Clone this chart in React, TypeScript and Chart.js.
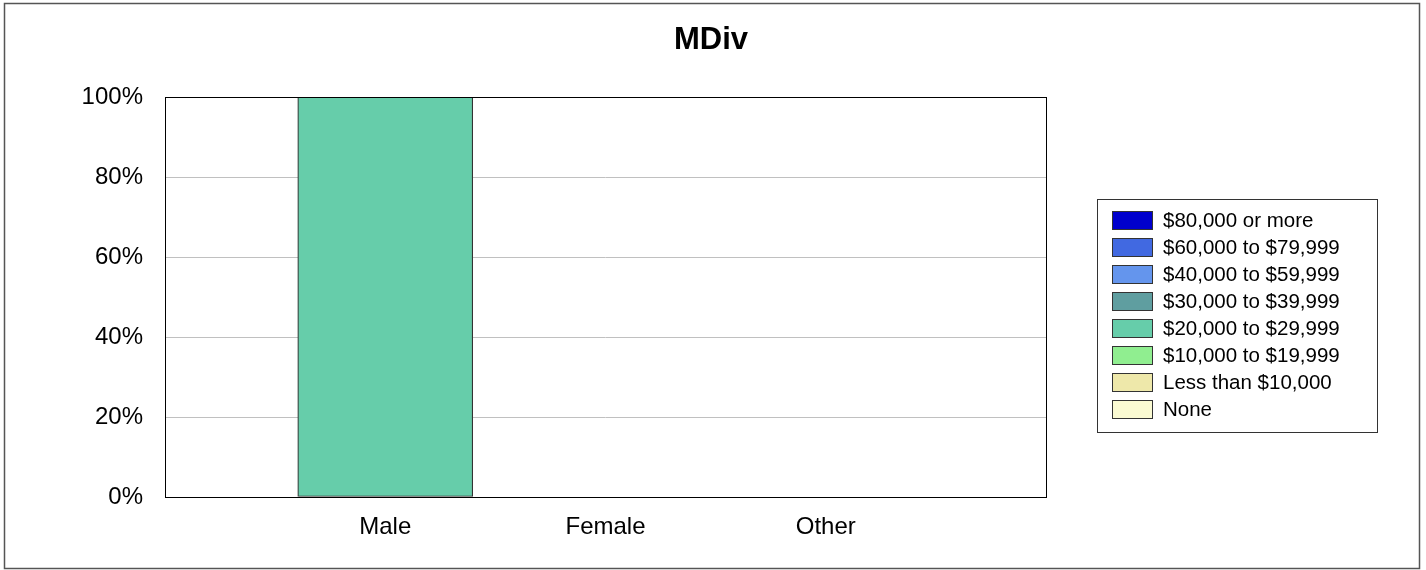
import React, { useEffect, useRef } from "react";
import { Chart, registerables } from "chart.js";

Chart.register(...registerables);

const title = "MDiv";
const categories = ["Male", "Female", "Other"];
const seriesNames = [
  "$80,000 or more",
  "$60,000 to $79,999",
  "$40,000 to $59,999",
  "$30,000 to $39,999",
  "$20,000 to $29,999",
  "$10,000 to $19,999",
  "Less than $10,000",
  "None",
];
const seriesColors = [
  "#0000CD",
  "#4169E1",
  "#6495ED",
  "#5F9EA0",
  "#66CDAA",
  "#90EE90",
  "#EEE8AA",
  "#FAFAD2",
];
// percent per category (Male, Female, Other)
const v80plus = [0, 0, 0];
const v60to80 = [0, 0, 0];
const v40to60 = [0, 0, 0];
const v30to40 = [0, 0, 0];
const v20to30 = [100, 0, 0];
const v10to20 = [0, 0, 0];
const vLess10 = [0, 0, 0];
const vNone = [0, 0, 0];
const seriesValues = [v80plus, v60to80, v40to60, v30to40, v20to30, v10to20, vLess10, vNone];
const yTicks = [0, 20, 40, 60, 80, 100];

const FONT = "'Liberation Sans', Arial, sans-serif";

export default function App() {
  const ref = useRef<HTMLCanvasElement | null>(null);

  useEffect(() => {
    document.body.style.margin = "0";
    const canvas = ref.current;
    if (!canvas) return;

    const decor = {
      id: "decor",
      beforeDraw(chart: any) {
        const ctx = chart.ctx;
        ctx.save();
        ctx.fillStyle = "#ffffff";
        ctx.fillRect(0, 0, chart.width, chart.height);
        ctx.restore();
      },
      afterDraw(chart: any) {
        const ctx = chart.ctx;
        const a = chart.chartArea;
        ctx.save();
        // plot border
        ctx.strokeStyle = "#000000";
        ctx.lineWidth = 1;
        ctx.strokeRect(Math.round(a.left) + 0.5, Math.round(a.top) + 0.5, Math.round(a.right - a.left), Math.round(a.bottom - a.top));
        // outer border
        ctx.strokeStyle = "#555555";
        ctx.lineWidth = 1.5;
        ctx.strokeRect(4.5, 3.5, 1415, 565);
        // title
        ctx.fillStyle = "#000000";
        ctx.font = `bold 31px ${FONT}`;
        ctx.textAlign = "center";
        ctx.textBaseline = "middle";
        ctx.fillText(title, 711, 40);
        // legend
        ctx.strokeStyle = "#333333";
        ctx.lineWidth = 1;
        ctx.strokeRect(1097.5, 199.5, 280, 233);
        ctx.font = `20.5px ${FONT}`;
        ctx.textAlign = "left";
        chart.data.datasets.forEach((ds: any, i: number) => {
          const top = 211 + i * 27;
          ctx.fillStyle = ds.backgroundColor;
          ctx.fillRect(1112, top, 40, 18);
          ctx.strokeStyle = "#333333";
          ctx.strokeRect(1112.5, top + 0.5, 40, 18);
          ctx.fillStyle = "#000000";
          ctx.fillText(ds.label, 1163, top + 10);
        });
        ctx.restore();
      },
    };

    const chart = new Chart(canvas, {
      type: "bar",
      data: {
        datasets: seriesNames.map((name, si) => ({
          label: name,
          backgroundColor: seriesColors[si],
          borderColor: "#333333",
          borderWidth: 1.2,
          borderSkipped: false,
          barThickness: 175,
          data: categories.map((c, ci) => ({
            x: ci + 1,
            y: seriesValues[si][ci] === 0 ? null : seriesValues[si][ci],
          })),
        })),
      },
      options: {
        animation: false,
        responsive: false,
        layout: { padding: { top: 97, right: 380, left: 0, bottom: 0 } },
        plugins: {
          legend: { display: false },
          title: { display: false },
          tooltip: { enabled: false },
        },
        scales: {
          x: {
            type: "linear",
            stacked: true,
            offset: false,
            min: 0,
            max: categories.length + 1,
            afterFit: (s: any) => {
              s.height = 73;
            },
            afterBuildTicks: (s: any) => {
              s.ticks = categories.map((c, i) => ({ value: i + 1 }));
            },
            grid: { display: false, drawTicks: false, offset: false },
            border: { display: false },
            ticks: {
              color: "#000000",
              font: { size: 24, family: FONT },
              padding: 16,
              autoSkip: false,
              maxRotation: 0,
              callback: (v: any) => categories[Number(v) - 1] ?? "",
            },
          },
          y: {
            stacked: true,
            min: 0,
            max: 100,
            afterFit: (s: any) => {
              s.width = 165;
            },
            afterBuildTicks: (s: any) => {
              s.ticks = yTicks.map((v) => ({ value: v }));
            },
            grid: { color: "#c0c0c0", drawTicks: false },
            border: { display: false },
            ticks: {
              color: "#000000",
              font: { size: 24, family: FONT },
              padding: 22,
              callback: (v: any) => `${v}%`,
            },
          },
        },
      },
      plugins: [decor],
    } as any);

    return () => chart.destroy();
  }, []);

  return (
    <div style={{ width: 1426, height: 570 }}>
      <canvas ref={ref} width={1426} height={570} style={{ display: "block" }} />
    </div>
  );
}
